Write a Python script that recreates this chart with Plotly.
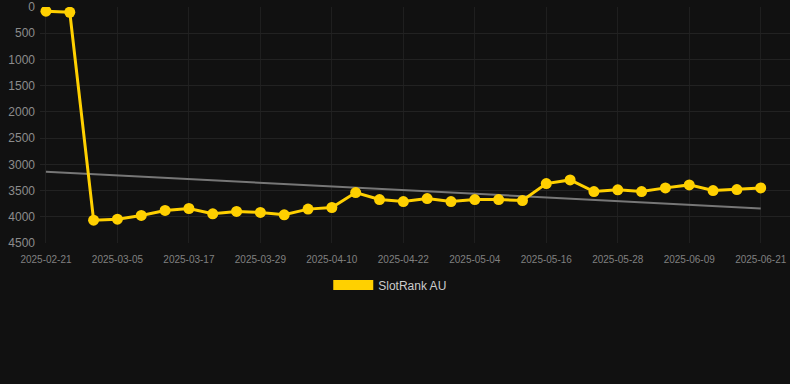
import pandas as pd
import plotly.graph_objects as go

dates = pd.date_range("2025-02-21", "2025-06-21", freq="4D").strftime("%Y-%m-%d").tolist()
ranks = [80, 100, 4065, 4045, 3975, 3880, 3842, 3943, 3899, 3918, 3962, 3854, 3823,
         3538, 3671, 3709, 3652, 3709, 3671, 3671, 3690, 3367, 3297, 3519, 3487,
         3519, 3449, 3392, 3500, 3481, 3449]
trend_dates = ["2025-02-21", "2025-06-21"]
trend_values = [3140, 3842]
tick_dates = ["2025-02-21", "2025-03-05", "2025-03-17", "2025-03-29", "2025-04-10",
              "2025-04-22", "2025-05-04", "2025-05-16", "2025-05-28", "2025-06-09", "2025-06-21"]
y_ticks = [0, 500, 1000, 1500, 2000, 2500, 3000, 3500, 4000, 4500]

YELLOW = "#FFD000"

fig = go.Figure()
fig.add_trace(go.Scatter(x=trend_dates, y=trend_values, mode="lines",
                         line=dict(color="#777777", width=2), showlegend=False, hoverinfo="skip"))
fig.add_trace(go.Scatter(x=dates, y=ranks, mode="lines+markers", name="SlotRank AU",
                         line=dict(color=YELLOW, width=3), marker=dict(color=YELLOW, size=11),
                         showlegend=False))
fig.add_trace(go.Scatter(x=[None], y=[None], mode="lines", name="SlotRank AU",
                         line=dict(color=YELLOW, width=12), showlegend=True))

fig.update_layout(
    width=790, height=384,
    margin=dict(l=40, r=0, t=7, b=141),
    paper_bgcolor="#111111", plot_bgcolor="#111111",
    font=dict(family="Arial, Liberation Sans, sans-serif", color="#888888"),
    xaxis=dict(type="date", range=["2025-02-20", "2025-06-25 22:00"],
               tickvals=tick_dates, ticktext=tick_dates,
               tickfont=dict(size=10, color="#808080"),
               showgrid=True, gridcolor="#1f1f1f", gridwidth=1,
               zeroline=False, showline=False, ticks="", ticklabelstandoff=9),
    yaxis=dict(range=[4500, 0], tickvals=y_ticks,
               tickfont=dict(size=12, color="#8c8c8c"),
               showgrid=True, gridcolor="#222222", gridwidth=1,
               zeroline=False, showline=False, ticks="", ticklabelstandoff=4),
    legend=dict(orientation="h", xref="container", x=0.494, xanchor="center",
                yref="container", y=0.258, yanchor="middle",
                font=dict(size=12, color="#cccccc"), bgcolor="rgba(0,0,0,0)",
                itemwidth=40),
    showlegend=True,
)

fig.write_html("out.html")
